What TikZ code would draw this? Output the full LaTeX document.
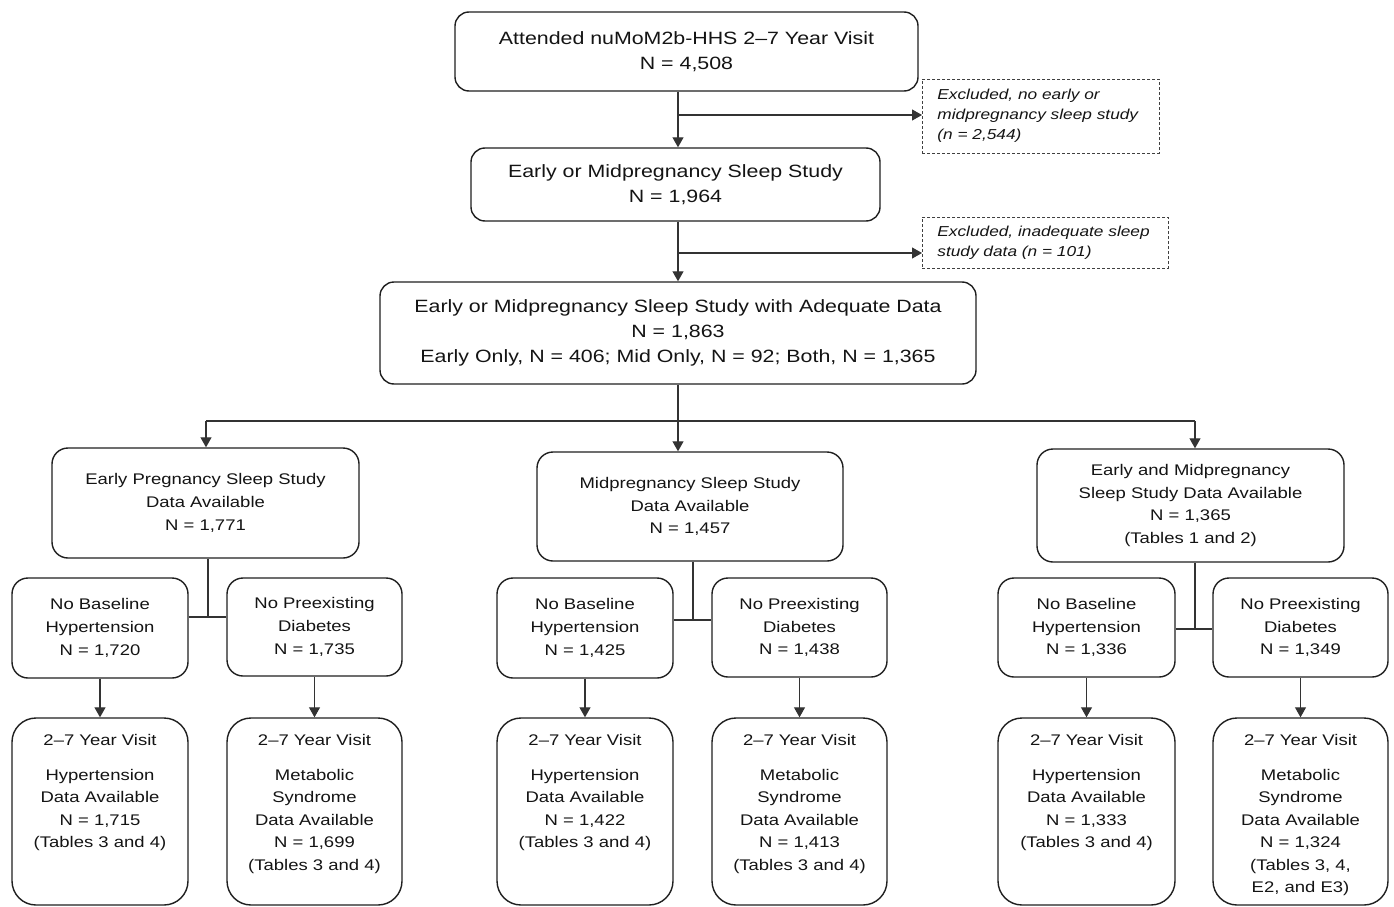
\documentclass[tikz,border=0pt]{standalone}
\usepackage{fontspec}
\setmainfont{Liberation Sans}[FakeStretch=1.2]
\usetikzlibrary{arrows.meta}
\begin{document}
\begin{tikzpicture}[x=1pt,y=-1pt,
 box/.style={draw=black!88, line width=1.4pt, fill=white, align=center, inner sep=0pt, text=black!92},
 topbox/.style={box, rounded corners=14pt, font=\fontsize{17.8}{25}\selectfont},
 midbox/.style={box, rounded corners=16pt, font=\fontsize{15.4}{22.7}\selectfont},
 botbox/.style={box, rounded corners=24pt},
 txt/.style={align=center, inner sep=0pt, anchor=north, text=black!92, font=\fontsize{15.4}{22.5}\selectfont},
 exbox/.style={draw=black!75, dash pattern=on 3pt off 2pt, line width=0.8pt, align=left, inner xsep=15pt, inner ysep=0pt, anchor=west, text=black!92, font=\fontsize{14.4}{20}\selectfont\itshape},
 conn/.style={draw=black!80, line width=1.1pt},
 arr/.style={conn, -{Triangle[width=11pt,length=10pt]}}
]
\useasboundingbox (0,0) rectangle (1394,907);

% top chain
\node[topbox, minimum width=463pt, minimum height=79pt] (a) at (686.5,51.5) {Attended nuMoM2b-HHS 2–7 Year Visit\\N = 4,508};
\node[topbox, minimum width=409pt, minimum height=73pt] (b) at (675.5,184.5) {Early or Midpregnancy Sleep Study\\N = 1,964};
\node[topbox, minimum width=596pt, minimum height=102pt] (c) at (678,333) {Early or Midpregnancy Sleep Study with Adequate Data\\N = 1,863\\Early Only, N = 406; Mid Only, N = 92; Both, N = 1,365};
\node[exbox, text width=207pt, minimum height=74pt] (exa) at (922,116) {Excluded, no early or\\midpregnancy sleep study\\(n = 2,544)};
\node[exbox, text width=216pt, minimum height=51pt] (exb) at (922,242.5) {Excluded, inadequate sleep\\study data (n = 101)};

\coordinate (t1) at (678,115);
\coordinate (t2) at (678,253);
\draw[arr] (a.south -| t1) -- (b.north -| t1);
\draw[arr] (t1) -- (exa.west |- t1);
\draw[arr] (b.south -| t2) -- (c.north -| t2);
\draw[arr] (t2) -- (exb.west |- t2);

% second level
\node[midbox, minimum width=307pt, minimum height=110pt] (l) at (205.5,503) {Early Pregnancy Sleep Study\\Data Available\\N = 1,771};
\node[midbox, minimum width=306pt, minimum height=109pt] (m) at (690,506.5) {Midpregnancy Sleep Study\\Data Available\\N = 1,457};
\node[midbox, minimum width=307pt, minimum height=113pt] (r) at (1190.5,505.5) {Early and Midpregnancy\\Sleep Study Data Available\\N = 1,365\\(Tables 1 and 2)};

\coordinate (bus) at (678,421);
\coordinate (busl) at (206,421);
\coordinate (busr) at (1195,421);
\draw[arr] (c.south -| bus) -- (m.north -| bus);
\draw[conn] (busl) -- (busr);
\draw[arr] (busl) -- (l.north -| busl);
\draw[arr] (busr) -- (r.north -| busr);

% third level
\node[midbox, minimum width=176pt, minimum height=100pt] (ll) at (100,628) {No Baseline\\Hypertension\\N = 1,720};
\node[midbox, minimum width=175pt, minimum height=98pt] (lr) at (314.5,627) {No Preexisting\\Diabetes\\N = 1,735};
\node[midbox, minimum width=176pt, minimum height=100pt] (ml) at (585,628) {No Baseline\\Hypertension\\N = 1,425};
\node[midbox, minimum width=175pt, minimum height=99pt] (mr) at (799.5,627.5) {No Preexisting\\Diabetes\\N = 1,438};
\node[midbox, minimum width=177pt, minimum height=99pt] (rl) at (1086.5,627.5) {No Baseline\\Hypertension\\N = 1,336};
\node[midbox, minimum width=175pt, minimum height=99pt] (rr) at (1300.5,627.5) {No Preexisting\\Diabetes\\N = 1,349};

\coordinate (jl) at (208,617);
\coordinate (jm) at (693,620);
\coordinate (jr) at (1195,629);
\draw[conn] (l.south -| jl) -- (jl);
\draw[conn] (ll.east |- jl) -- (lr.west |- jl);
\draw[conn] (m.south -| jm) -- (jm);
\draw[conn] (ml.east |- jm) -- (mr.west |- jm);
\draw[conn] (r.south -| jr) -- (jr);
\draw[conn] (rl.east |- jr) -- (rr.west |- jr);

% bottom level
\node[botbox, minimum width=176pt, minimum height=187pt] (llb) at (100,811.5) {};
\node[botbox, minimum width=175pt, minimum height=187pt] (lrb) at (314.5,811.5) {};
\node[botbox, minimum width=176pt, minimum height=187pt] (mlb) at (585,811.5) {};
\node[botbox, minimum width=175pt, minimum height=187pt] (mrb) at (799.5,811.5) {};
\node[botbox, minimum width=177pt, minimum height=187pt] (rlb) at (1086.5,811.5) {};
\node[botbox, minimum width=175pt, minimum height=187pt] (rrb) at (1300.5,811.5) {};

\node[txt] (llt) at (100,734) {2–7 Year Visit\\[12.5pt]Hypertension\\Data Available\\N = 1,715\\(Tables 3 and 4)};
\node[txt] (lrt) at (314.5,734) {2–7 Year Visit\\[12.5pt]Metabolic\\Syndrome\\Data Available\\N = 1,699\\(Tables 3 and 4)};
\node[txt] (mlt) at (585,734) {2–7 Year Visit\\[12.5pt]Hypertension\\Data Available\\N = 1,422\\(Tables 3 and 4)};
\node[txt] (mrt) at (799.5,734) {2–7 Year Visit\\[12.5pt]Metabolic\\Syndrome\\Data Available\\N = 1,413\\(Tables 3 and 4)};
\node[txt] (rlt) at (1086.5,734) {2–7 Year Visit\\[12.5pt]Hypertension\\Data Available\\N = 1,333\\(Tables 3 and 4)};
\node[txt] (rrt) at (1300.5,734) {2–7 Year Visit\\[12.5pt]Metabolic\\Syndrome\\Data Available\\N = 1,324\\(Tables 3, 4,\\E2, and E3)};

\draw[arr] (ll) -- (llb);
\draw[arr] (lr) -- (lrb);
\draw[arr] (ml) -- (mlb);
\draw[arr] (mr) -- (mrb);
\draw[arr] (rl) -- (rlb);
\draw[arr] (rr) -- (rrb);
\end{tikzpicture}
\end{document}
